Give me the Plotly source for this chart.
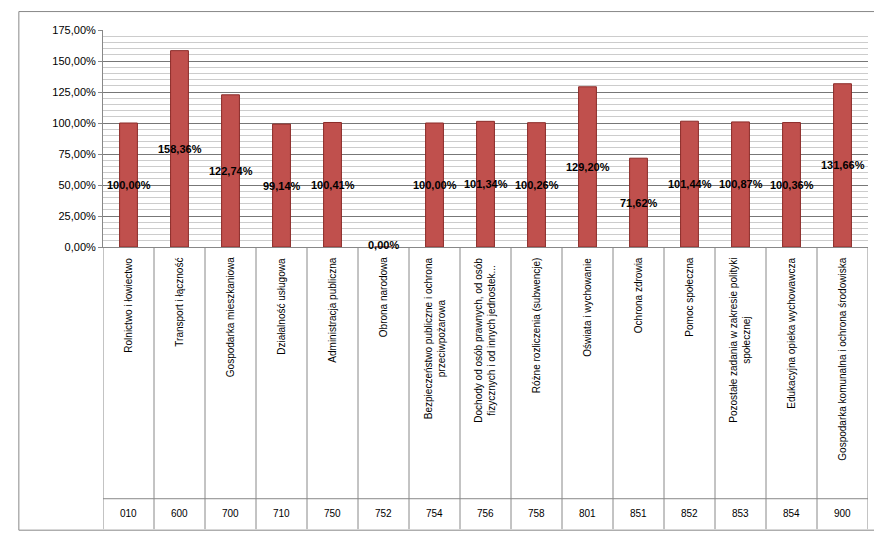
import plotly.graph_objects as go

codes = ["010","600","700","710","750","752","754","756","758","801","851","852","853","854","900"]
names = ["Rolnictwo i łowiectwo","Transport i łączność","Gospodarka mieszkaniowa","Działalność usługowa",
         "Administracja publiczna","Obrona narodowa","Bezpieczeństwo publiczne i ochrona<br>przeciwpożarowa",
         "Dochody od osób prawnych, od osób<br>fizycznych i od innych jednostek...","Różne rozliczenia (subwencje)",
         "Oświata i wychowanie","Ochrona zdrowia","Pomoc społeczna","Pozostałe zadania w zakresie polityki<br>społecznej",
         "Edukacyjna opieka wychowawcza","Gospodarka komunalna i ochrona środowiska"]
values = [100.00,158.36,122.74,99.14,100.41,0.00,100.00,101.34,100.26,129.20,71.62,101.44,100.87,100.36,131.66]
ticks = [0,25,50,75,100,125,150,175]

x = list(range(len(codes)))
fig = go.Figure()
fig.add_bar(x=x, y=values, width=0.35, marker=dict(color="#C0504D", line=dict(color="#8B2B28", width=1)),
            hoverinfo="skip")
for i, v in enumerate(values):
    fig.add_annotation(x=i, y=max(v/2, 1.5), xref="x", yref="y", showarrow=False,
                       text="<b>" + f"{v:.2f}%".replace(".", ",") + "</b>",
                       font=dict(family="Liberation Sans", size=11, color="black"))
for i, n in enumerate(names):
    fig.add_annotation(x=i, xref="x", yref="paper", y=-0.04, yanchor="top", textangle=-90,
                       text=n, showarrow=False, font=dict(family="Liberation Sans", size=10, color="black"),
                       xanchor="center")
    fig.add_annotation(x=i, xref="x", yref="paper", y=-1.23, yanchor="middle", text=codes[i],
                       showarrow=False, font=dict(family="Liberation Sans", size=10, color="black"))
for i in range(len(codes)+1):
    fig.add_shape(type="line", xref="x", yref="paper", x0=i-0.5, x1=i-0.5, y0=0, y1=-1.3,
                  line=dict(color="#888", width=1))
fig.add_shape(type="line", xref="x", yref="paper", x0=-0.5, x1=14.5, y0=-1.16, y1=-1.16, line=dict(color="#888", width=1))
fig.add_shape(type="rect", xref="paper", yref="paper", x0=-0.11, x1=1.018, y0=-1.305, y1=1.085,
              line=dict(color="#888", width=1))
fig.update_layout(width=882, height=539, margin=dict(l=95, r=22, t=22, b=300),
                  plot_bgcolor="white", paper_bgcolor="white", showlegend=False)
fig.update_xaxes(range=[-0.5, 14.5], showticklabels=False, showgrid=False, showline=True, linecolor="#888")
fig.update_yaxes(range=[0, 175], tickvals=ticks, ticktext=[f"{t:.2f}%".replace(".", ",") for t in ticks],
                 showgrid=True, gridcolor="#777", gridwidth=1, showline=True, linecolor="#888",
                 minor=dict(dtick=5, showgrid=True, gridcolor="#ccc", gridwidth=1),
                 tickfont=dict(family="Liberation Sans", size=11, color="black"), ticks="outside", ticklen=4, tickcolor="#888")
fig.write_html("out.html")
